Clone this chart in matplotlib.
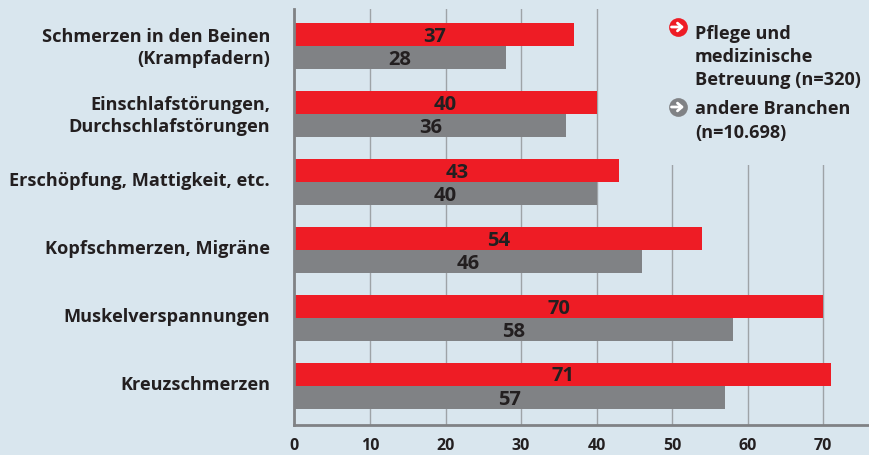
import matplotlib
matplotlib.use('Agg')
import matplotlib.pyplot as plt

categories = ['Schmerzen in den Beinen\n(Krampfadern)', 'Einschlafstörungen,\nDurchschlafstörungen',
              'Erschöpfung, Mattigkeit, etc.', 'Kopfschmerzen, Migräne', 'Muskelverspannungen', 'Kreuzschmerzen']
pflege = [37, 40, 43, 54, 70, 71]
andere = [28, 36, 40, 46, 58, 57]
ticks = [0, 10, 20, 30, 40, 50, 60, 70]

red = '#ee1c25'
grey = '#808285'
bg = '#d9e6ee'
dark = '#231f20'

plt.rcParams['font.family'] = ['Open Sans', 'DejaVu Sans']
plt.rcParams['font.weight'] = 'bold'

fig = plt.figure(figsize=(8.7, 4.56), dpi=100, facecolor=bg)
ax = fig.add_axes([294.5/870, 1-426/456, (870-294.5)/870, (426-10)/456])
ax.set_facecolor(bg)
ax.set_xlim(0, 76.2)
ax.set_ylim(5.573, -0.545)
ax.set_axisbelow(True)

for i in range(6):
    ax.barh(i - 0.172, pflege[i], height=0.344, color=red, zorder=2)
    ax.barh(i + 0.172, andere[i], height=0.344, color=grey, zorder=2)
    ax.text(pflege[i] / 2, i - 0.155, str(pflege[i]), ha='center', va='center', fontsize=14.5, color=dark, zorder=3)
    ax.text(andere[i] / 2, i + 0.185, str(andere[i]), ha='center', va='center', fontsize=14.5, color=dark, zorder=3)
    ax.text(-3.25, i + (0.015 if '\n' in categories[i] else -0.025), categories[i], ha='right', va='center',
            fontsize=13.1, color=dark, linespacing=1.3)

ax.set_xticks(ticks)
ax.set_xticklabels(ticks, fontsize=11.5, color=dark)
ax.set_yticks([])
ax.grid(axis='x', color='#9ea3a7', lw=1)
for s in ['top', 'right']:
    ax.spines[s].set_visible(False)
ax.spines['left'].set_color('#808285')
ax.spines['left'].set_linewidth(2)
ax.spines['bottom'].set_color('#808285')
ax.spines['bottom'].set_linewidth(2)
ax.tick_params(axis='x', length=0, pad=8.5)

# legend block hides the grid lines behind it
ax.axvspan(41, 76.2, ymin=(426-166)/416, ymax=1, color=bg, lw=0, zorder=1)

lg = fig.add_axes([660/870, 1-150/456, 210/870, 150/456])
lg.set_xlim(660, 870)
lg.set_ylim(150, 0)
lg.axis('off')
for y0, col, txt, yt in [(28, red, 'Pflege und\nmedizinische\nBetreuung (n=320)', 57),
                         (108, grey, 'andere Branchen\n(n=10.698)', 121)]:
    lg.scatter([677.7], [y0], s=182, color=col, linewidths=0)
    lg.annotate('', xy=(684, y0), xytext=(671.5, y0),
                arrowprops=dict(arrowstyle='->,head_length=0.32,head_width=0.28', color='white', lw=2,
                                shrinkA=0, shrinkB=0))
    lg.text(695, yt, txt, fontsize=13.1, color=dark, va='center', ha='left', linespacing=1.37)

fig.savefig('out.png', dpi=100, facecolor=bg)
